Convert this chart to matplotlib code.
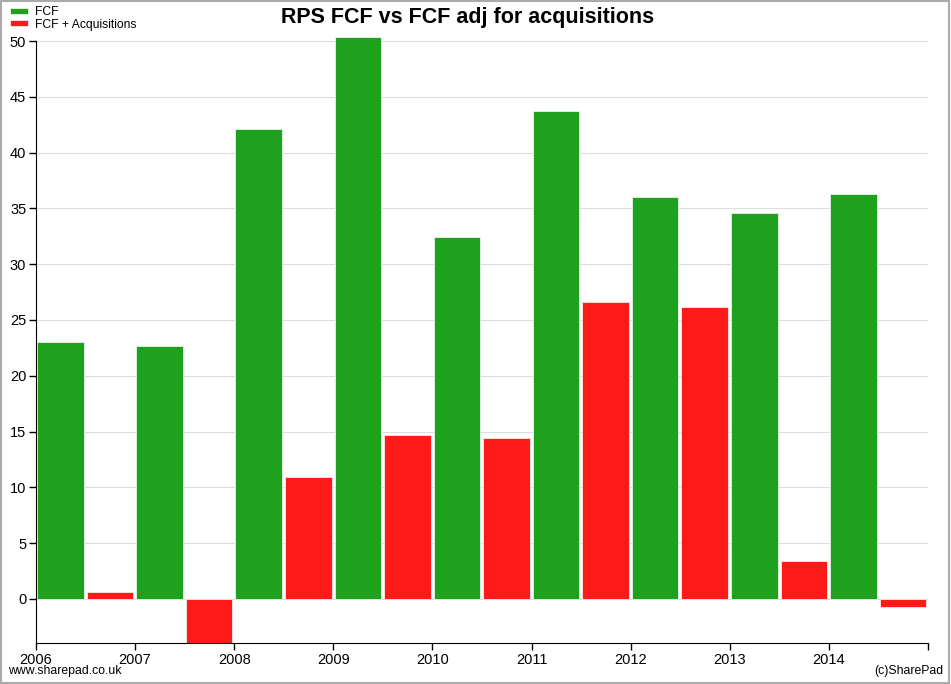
import matplotlib
matplotlib.use("Agg")
import matplotlib.pyplot as plt
from matplotlib.patches import Rectangle
import numpy as np

years = [2006, 2007, 2008, 2009, 2010, 2011, 2012, 2013, 2014]
fcf = [23.0, 22.7, 42.1, 50.4, 32.4, 43.7, 36.0, 34.6, 36.3]
fcf_acq = [0.6, -4.5, 10.9, 14.7, 14.4, 26.6, 26.2, 3.4, -0.7]
series_names = ["FCF", "FCF + Acquisitions"]
title = "RPS FCF vs FCF adj for acquisitions"

green = "#1ea21e"
red = "#ff1a1a"

plt.rcParams['font.family'] = ['Liberation Sans', 'DejaVu Sans']

fig = plt.figure(figsize=(9.51, 6.84), dpi=100)
ax = fig.add_axes([36/951, 1-643/684, (928-36)/951, (643-36)/684])

x = np.array(years, dtype=float)
ax.bar(x + 0.012, fcf, width=0.47, align='edge', color=green, edgecolor='#e8f5e8', linewidth=0.6, label=series_names[0], zorder=2)
ax.bar(x + 0.512, fcf_acq, width=0.47, align='edge', color=red, edgecolor='#ffe8e8', linewidth=0.6, label=series_names[1], zorder=2)

ax.set_xlim(2006, 2015)
ax.set_ylim(-3.95, 50.45)
ax.set_yticks(np.arange(0, 51, 5))
ax.set_xticks(years + [2015])
ax.set_xticklabels([str(y) for y in years] + [""])
ax.yaxis.grid(True, color='#dddddd', linewidth=0.8, zorder=0)
ax.set_axisbelow(True)
for s in ['top', 'right']:
    ax.spines[s].set_visible(False)
ax.spines['left'].set_bounds(-3.95, 50)
ax.tick_params(direction='out', length=5, width=1, labelsize=10.5, colors='black')
ax.tick_params(axis='x', pad=2)
ax.tick_params(axis='y', pad=2)
ax.patch.set_alpha(0)

fig.text(468/951, 1-17/684, title, ha='center', va='center', fontsize=15.5, fontweight='bold')
fig.text(8/951, 1-671/684, "www.sharepad.co.uk", ha='left', va='center', fontsize=8.8)
fig.text(943/951, 1-671/684, "(c)SharePad", ha='right', va='center', fontsize=8.8)

fig.legend(loc='upper left', bbox_to_anchor=(0.004, 1.0), frameon=False, fontsize=8.7,
           handlelength=1.5, handleheight=0.4, labelspacing=0.05, handletextpad=0.6,
           borderaxespad=0.1)

fig.patches.append(Rectangle((0.001, 0.001), 0.997, 0.997, transform=fig.transFigure,
                             fill=False, edgecolor='#aaaaaa', linewidth=1.5))

fig.savefig("out.png", dpi=100)
